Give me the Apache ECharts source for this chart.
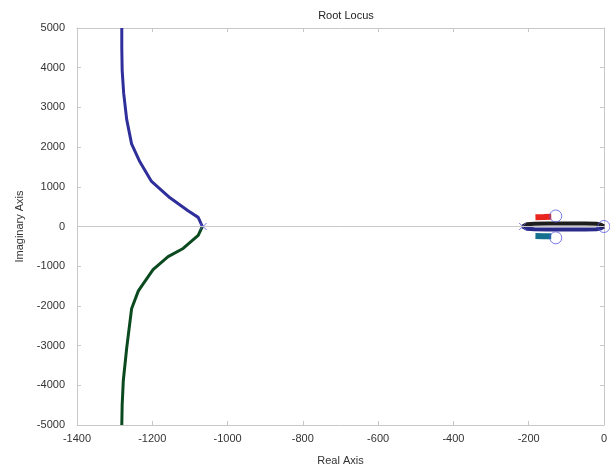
<!DOCTYPE html>
<html>
<head>
<meta charset="utf-8">
<script src="https://cdn.jsdelivr.net/npm/echarts@6/dist/echarts.min.js"></script>
<style>
  html, body { margin: 0; padding: 0; background: #fff; }
  #chart { width: 610px; height: 471px; }
</style>
</head>
<body>
<div id="chart"></div>
<script>
// upper far branch (blue), lower far branch (green)
const upperRe = [-1067, -1078, -1105, -1153, -1202, -1233, -1255, -1268, -1276, -1280, -1281, -1281];
const upperIm = [0, 230, 395, 723, 1136, 1630, 2081, 2699, 3358, 3933, 4500, 5000];
const lowerRe = [-1067, -1078, -1118, -1158, -1198, -1237, -1255, -1268, -1277, -1280, -1281];
const lowerIm = [0, -222, -553, -758, -1086, -1622, -2074, -3062, -3886, -4500, -5000];

// near-axis loop between -216 and 0
const loopRe = [-216, -205, -185, -150, -100, -50, -20, -8, 0];
const loopTopIm = [0, 55, 72, 75, 75, 75, 70, 48, 0];
const loopBotIm = [0, -55, -72, -75, -75, -75, -70, -48, 0];

// short branches ending at the complex zeros
const redRe = [-182, -160, -140];
const redIm = [232, 238, 244];
const tealRe = [-182, -160, -140];
const tealIm = [-240, -244, -248];

const polesRe = [-1065, -216];
const polesIm = [0, 0];
const zerosRe = [-128, -128, 0];
const zerosIm = [265, -285, 0];

const xTicks = { min: -1400, max: 0, interval: 200 };
const yTicks = { min: -5000, max: 5000, interval: 1000 };

const pairs = (xs, ys) => xs.map((x, i) => [x, ys[i]]);

let myChart = echarts.init(document.getElementById('chart'));

const axisLine = { lineStyle: { color: '#c8c8c8', width: 1 } };
const tick = { inside: true, length: 4, lineStyle: { color: '#c8c8c8' } };
const labelStyle = { color: '#333', fontSize: 11, fontFamily: 'Liberation Sans' };
const plain = v => String(v);

function lineSeries(xs, ys, color, width) {
  return {
    type: 'line',
    data: pairs(xs, ys),
    showSymbol: false,
    symbol: 'none',
    lineStyle: { color: color, width: width },
    z: 3
  };
}

let options = {
  animation: false,
  title: {
    text: 'Root Locus',
    left: 341,
    textAlign: 'center',
    top: 5,
    textStyle: { fontSize: 11, fontWeight: 'normal', color: '#222', fontFamily: 'Liberation Sans' }
  },
  grid: { left: 77, right: 5, top: 28, bottom: 39 },
  xAxis: [{
    type: 'value',
    min: xTicks.min, max: xTicks.max, interval: xTicks.interval,
    name: 'Real Axis',
    nameLocation: 'center',
    nameGap: 30,
    nameTextStyle: labelStyle,
    axisLine: Object.assign({ onZero: false }, axisLine),
    axisTick: tick,
    axisLabel: Object.assign({ margin: 8, formatter: plain }, labelStyle),
    splitLine: { show: false }
  }, {
    type: 'value', position: 'top',
    min: xTicks.min, max: xTicks.max, interval: xTicks.interval,
    axisLine: Object.assign({ onZero: false }, axisLine),
    axisTick: tick,
    axisLabel: { show: false },
    splitLine: { show: false }
  }],
  yAxis: [{
    type: 'value',
    min: yTicks.min, max: yTicks.max, interval: yTicks.interval,
    name: 'Imaginary Axis',
    nameLocation: 'center',
    nameGap: 52,
    nameTextStyle: labelStyle,
    axisLine: Object.assign({ show: true, onZero: false }, axisLine),
    axisTick: Object.assign({ show: true }, tick),
    axisLabel: Object.assign({ margin: 12, formatter: plain }, labelStyle),
    splitLine: { show: false }
  }, {
    type: 'value', position: 'right',
    min: yTicks.min, max: yTicks.max, interval: yTicks.interval,
    axisLine: Object.assign({ show: true, onZero: false }, axisLine),
    axisTick: Object.assign({ show: true }, tick),
    axisLabel: { show: false },
    splitLine: { show: false }
  }],
  series: [
    {
      type: 'line',
      data: [],
      markLine: {
        silent: true,
        symbol: 'none',
        label: { show: false },
        lineStyle: { color: '#c8c8c8', width: 1, type: 'solid' },
        data: [{ yAxis: 0 }]
      }
    },
    lineSeries(upperRe, upperIm, '#2f2f9c', 3),
    lineSeries(lowerRe, lowerIm, '#0b4a1f', 3),
    lineSeries(loopRe, loopBotIm, '#2a2a8a', 4),
    lineSeries(loopRe, loopTopIm, '#1e1e1e', 4),
    lineSeries(redRe, redIm, '#e8261e', 6),
    lineSeries(tealRe, tealIm, '#13708e', 6),
    {
      type: 'scatter',
      data: pairs(zerosRe, zerosIm),
      symbol: 'circle',
      symbolSize: 12,
      clip: false,
      itemStyle: { color: 'rgba(0,0,0,0)', borderColor: '#5a5ae0', borderWidth: 1 },
      z: 4
    },
    {
      type: 'scatter',
      data: pairs(polesRe, polesIm),
      symbol: 'path://M0,0L10,10M10,0L0,10',
      symbolSize: 7,
      itemStyle: { color: 'rgba(0,0,0,0)', borderColor: '#5a5ae0', borderWidth: 1 },
      z: 4
    }
  ]
};

myChart.setOption(options);
</script>
</body>
</html>
